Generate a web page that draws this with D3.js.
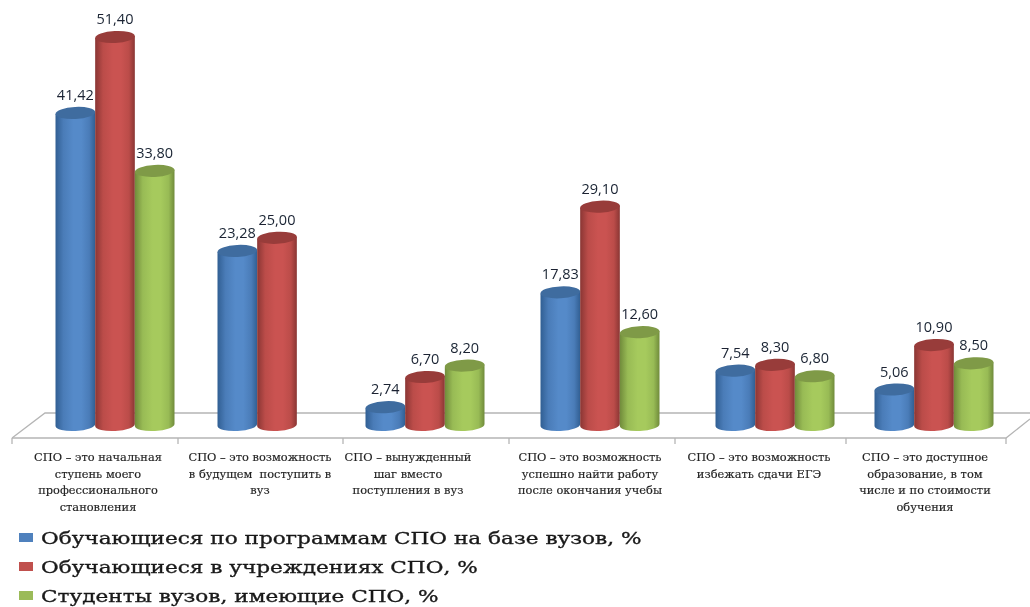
<!DOCTYPE html>
<html><head><meta charset="utf-8">
<script src="https://cdn.jsdelivr.net/npm/d3@7/dist/d3.min.js"></script>
<style>html,body{margin:0;padding:0;background:#fff}svg{display:block}</style>
</head><body><div id="c"></div>
<script>
const categories = ["c1","c2","c3","c4","c5","c6"];
const categoryLines = [
 ["СПО – это начальная","ступень моего","профессионального","становления"],
 ["СПО – это возможность","в будущем  поступить в","вуз"],
 ["СПО – вынужденный","шаг вместо","поступления в вуз"],
 ["СПО – это возможность","успешно найти работу","после окончания учебы"],
 ["СПО – это возможность","избежать сдачи ЕГЭ"],
 ["СПО – это доступное","образование, в том","числе и по стоимости","обучения"]
];
const seriesNames = ["Обучающиеся по программам СПО на базе вузов, %","Обучающиеся в учреждениях СПО, %","Студенты вузов, имеющие СПО, %"];
const seriesA = [41.42,23.28,2.74,17.83,7.54,5.06];
const seriesB = [51.40,25.00,6.70,29.10,8.30,10.90];
const seriesC = [33.80,null,8.20,12.60,6.80,8.50];

const W=1030,H=607;
const svg=d3.select("#c").append("svg").attr("width",W).attr("height",H);
const defs=svg.append("defs");
const soft=defs.append("filter").attr("id","soft").attr("x","-5%").attr("y","-20%").attr("width","110%").attr("height","140%");
soft.append("feGaussianBlur").attr("stdDeviation",0.3);
const palette=[
 {edge:"#315f93",side:"#4a7cb8",mid:"#558ac9",top:"#3f6c9f",sw:"#4f81bd"},
 {edge:"#8a3634",side:"#bb4c49",mid:"#ca5351",top:"#983c3a",sw:"#c0504d"},
 {edge:"#708b3b",side:"#98bb55",mid:"#a6ca5d",top:"#7f9a47",sw:"#9bbb59"}];
palette.forEach((p,i)=>{
 const g=defs.append("linearGradient").attr("id","g"+i);
 [[0,p.edge],[.2,p.side],[.45,p.mid],[.65,p.mid],[.85,p.side],[1,p.edge]].forEach(s=>g.append("stop").attr("offset",s[0]).attr("stop-color",s[1]));
});
const bars=[seriesA,seriesB,seriesC];
const y=d3.scaleLinear().domain([0,51.4]).range([428,37]);
const cx=d3.scaleOrdinal().domain(categories).range([115,277,425,600,775,934]);
const labelX=d3.scaleOrdinal().domain(categories).range([98,260,408,590,759,925]);
const slot=d3.scaleBand().domain([0,1,2]).range([-59.5,59.5]);
const ry=6, rx=slot.bandwidth()/2, tilt=-3;

// floor
const floor=svg.append("g").attr("fill","none").attr("stroke","#b5b5b5").attr("stroke-width",1.3);
floor.append("path").attr("d",d3.line()([[12,438],[45,413],[1030,413]]));
floor.append("path").attr("d",d3.line()([[12,438],[1006,438],[1030,419]]));
[12,178,343,509,675,846,1006].forEach(x=>floor.append("line").attr("x1",x).attr("x2",x).attr("y1",438).attr("y2",444));

// bars
categories.forEach((c,ci)=>{
 bars.forEach((vals,si)=>{
  const v=vals[ci]; if(v==null) return;
  const x0=cx(c)+slot(si), x1=x0+slot.bandwidth(), yt=y(v), yb=y(0)-3, xm=(x0+x1)/2;
  const dy=rx*Math.sin(tilt*Math.PI/180);
  const g=svg.append("g");
  g.append("path").attr("fill",`url(#g${si})`)
   .attr("d",`M${x0},${yt-dy}L${x0},${yb-dy}A${rx},${ry} ${tilt} 0 0 ${x1},${yb+dy}L${x1},${yt+dy}Z`);
  g.append("ellipse").attr("cx",xm).attr("cy",yt).attr("rx",rx).attr("ry",ry).attr("fill",palette[si].top)
   .attr("transform",`rotate(${tilt} ${xm} ${yt})`);
  svg.append("text").attr("x",xm).attr("y",yt-13).attr("text-anchor","middle")
   .attr("font-family","'Open Sans',sans-serif").attr("font-size",14.5).attr("fill","#1a2433")
   .attr("filter","url(#soft)")
   .text(v.toFixed(2).replace(".",","));
 });
});

// category labels
categories.forEach((c,ci)=>{
 const t=svg.append("text").attr("text-anchor","middle").attr("font-family","'DejaVu Serif',serif")
  .attr("font-size",11.4).attr("fill","#222").attr("stroke","#222").attr("stroke-width",0.15)
  .attr("filter","url(#soft)").attr("xml:space","preserve");
 categoryLines[ci].forEach((l,li)=>t.append("tspan").attr("x",labelX(c)).attr("y",461+li*16.5).text(l));
});

// legend
const ly=d3.scalePoint().domain(seriesNames).range([538,596]);
seriesNames.forEach((n,i)=>{
 svg.append("rect").attr("x",19).attr("y",ly(n)-5).attr("width",14).attr("height",9).attr("fill",palette[i].sw);
 svg.append("text").attr("transform",`translate(41,${ly(n)+6}) scale(1.235,1)`)
  .attr("font-family","'DejaVu Serif',serif").attr("font-size",17.5)
  .attr("fill","#1a1a1a").attr("stroke","#1a1a1a").attr("stroke-width",0.35)
  .attr("filter","url(#soft)").text(n);
});
</script></body></html>
